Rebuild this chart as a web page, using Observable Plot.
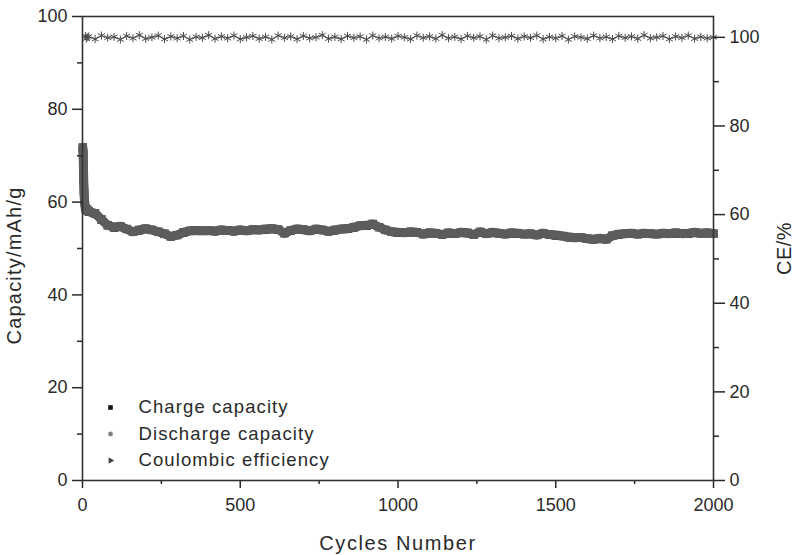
<!DOCTYPE html>
<html><head><meta charset="utf-8">
<script src="https://cdn.jsdelivr.net/npm/d3@7"></script>
<script src="https://cdn.jsdelivr.net/npm/@observablehq/plot@0.6"></script>
<style>
html,body{margin:0;padding:0;background:#fff;}
#chart svg, #chart svg text{font-family:"Liberation Sans",Arial,sans-serif;}
#chart svg{color:#2a2a2a;background:#fff;}
</style></head><body><div id="chart"></div>
<script>
const cycles = [1,2,3,4,5,6,8,10,12,15,
  20,40,60,80,100,120,140,160,180,200,
  220,240,260,280,300,320,340,360,380,400,
  420,440,460,480,500,520,540,560,580,600,
  620,640,660,680,700,720,740,760,780,800,
  820,840,860,880,900,920,940,960,980,1000,
  1020,1040,1060,1080,1100,1120,1140,1160,1180,1200,
  1220,1240,1260,1280,1300,1320,1340,1360,1380,1400,
  1420,1440,1460,1480,1500,1520,1540,1560,1580,1600,
  1620,1640,1660,1680,1700,1720,1740,1760,1780,1800,
  1820,1840,1860,1880,1900,1920,1940,1960,1980,2000];
const dischargeCapacity = [71.8,70.5,67.5,64.5,62.0,60.5,59.2,58.6,58.3,58.4,
  58.0,57.6,56.3,55.0,54.6,54.8,54.2,53.6,54.0,54.3,
  54.0,53.6,53.2,52.6,52.9,53.5,53.8,53.9,53.8,53.9,
  53.8,54.0,53.9,53.8,54.0,53.8,54.1,54.0,54.2,54.3,
  54.1,53.3,53.9,54.2,54.1,53.8,54.2,54.0,53.7,54.0,
  54.2,54.3,54.6,54.9,55.0,55.3,54.6,54.0,53.6,53.5,
  53.4,53.6,53.5,53.1,53.4,53.3,53.0,53.4,53.2,53.5,
  53.4,53.0,53.6,53.2,53.5,53.3,53.1,53.4,53.3,53.1,
  53.2,52.9,53.3,53.0,52.9,52.7,52.5,52.3,52.4,52.1,
  52.0,52.2,52.0,52.8,53.1,53.2,53.3,53.1,53.3,53.2,
  53.1,53.3,53.2,53.4,53.2,53.3,53.5,53.3,53.4,53.2];
const chargeCapacity = [71.6,70.3,67.4,64.4,61.9,60.4,59.1,58.5,58.2,58.3,
  57.9,57.5,56.2,55.0,54.5,54.7,54.2,53.6,53.9,54.2,
  54.0,53.6,53.1,52.6,52.9,53.4,53.8,53.8,53.8,53.9,
  53.7,54.0,53.9,53.7,54.0,53.8,54.0,54.0,54.1,54.2,
  54.1,53.3,53.8,54.2,54.0,53.8,54.1,54.0,53.7,53.9,
  54.2,54.2,54.5,54.9,54.9,55.2,54.6,54.0,53.6,53.4,
  53.4,53.5,53.5,53.1,53.3,53.3,53.0,53.3,53.2,53.4,
  53.3,53.0,53.5,53.2,53.4,53.3,53.1,53.3,53.2,53.1,
  53.1,52.9,53.2,53.0,52.8,52.7,52.4,52.3,52.3,52.1,
  52.0,52.1,52.0,52.7,53.0,53.2,53.2,53.1,53.2,53.2,
  53.1,53.2,53.2,53.3,53.2,53.2,53.4,53.3,53.3,53.2];
const coulombicEfficiency = [99.6,100.2,99.8,100.4,99.5,100.1,99.9,100.3,99.7,100.0,
  100.2,99.6,100.4,99.9,100.1,99.5,100.3,99.8,100.5,99.7,
  100.0,100.4,99.6,100.2,99.8,100.3,99.5,100.1,99.9,100.5,
  99.7,100.2,99.8,100.4,99.6,100.0,100.3,99.7,100.1,99.5,
  100.4,99.9,100.2,99.6,100.3,99.8,100.0,100.5,99.7,100.1,
  99.6,100.3,99.9,100.2,99.5,100.4,99.8,100.1,99.7,100.3,
  100.0,99.6,100.4,99.9,100.2,99.7,100.5,99.8,100.1,99.6,
  100.3,99.9,100.2,99.5,100.4,99.8,100.0,100.3,99.7,100.2,
  99.9,100.4,99.6,100.1,99.8,100.3,99.5,100.2,100.0,99.7,
  100.4,99.8,100.1,99.6,100.3,99.9,100.2,99.7,100.5,99.8,
  100.0,100.3,99.6,100.2,99.9,100.4,99.7,100.1,99.8,100.0];
const xTicks = [0,500,1000,1500,2000];
const xMinorTicks = [250,750,1250,1750];
const capTicks = [0,20,40,60,80,100];
const capMinorTicks = [10,30,50,70,90];
const ceTicks = [0,20,40,60,80,100];
const ceMinorTicks = [10,30,50,70,90];
const ceMax = 104.7;
const legendLabels = ["Charge capacity","Discharge capacity","Coulombic efficiency"];
const xTitle = "Cycles Number";
const yTitle = "Capacity/mAh/g";
const y2Title = "CE/%";

const FONT = "Liberation Sans";
const ce = d3.scaleLinear([0, ceMax], [0, 100]);
const rows = cycles.map((c, i) => ({cycle: c, charge: chargeCapacity[i], discharge: dischargeCapacity[i], ce: coulombicEfficiency[i]}));
const ceRows = rows.filter(d => d.cycle >= 10);

const legendSymbols = [
  {symbol: "square", fill: "#111", r: 2.6, rotate: 0},
  {symbol: "circle", fill: "#808080", r: 2.4, rotate: 0},
  {symbol: "triangle", fill: "#444", r: 2.4, rotate: 90}
];
const legendMarks = legendLabels.flatMap((label, i) => [
  Plot.dot([label], {frameAnchor: "bottom-left", dx: 28, dy: -73 + i * 26.5, symbol: legendSymbols[i].symbol, fill: legendSymbols[i].fill, stroke: "none", r: legendSymbols[i].r, rotate: legendSymbols[i].rotate}),
  Plot.text([label], {frameAnchor: "bottom-left", dx: 56, dy: -73 + i * 26.5, text: d => d, textAnchor: "start", lineAnchor: "middle", fontSize: 18.5, fontFamily: FONT, fill: "#2a2a2a"})
]);

const chart = Plot.plot({
  width: 796, height: 555,
  marginLeft: 82, marginRight: 83, marginTop: 16, marginBottom: 75,
  style: {fontFamily: FONT, background: "#fff"},
  x: {domain: [0, 2000]},
  y: {domain: [0, 100]},
  marks: [
    Plot.line(rows, {x: "cycle", y: "charge", stroke: "#222", strokeWidth: 8.5, strokeLinejoin: "round"}),
    Plot.dot(rows, {x: "cycle", y: "charge", symbol: "square", r: 4.5, fill: "#111", stroke: "none"}),
    Plot.line(rows, {x: "cycle", y: "discharge", stroke: "#5c5c5c", strokeWidth: 9, strokeLinejoin: "round"}),
    Plot.dot(rows, {x: "cycle", y: "discharge", symbol: "square", r: 4.8, fill: "#5c5c5c", stroke: "none"}),
    Plot.line(ceRows, {x: "cycle", y: d => ce(d.ce), stroke: "#707070", strokeWidth: 1.2}),
    Plot.dot(ceRows, {x: "cycle", y: d => ce(d.ce), symbol: "asterisk", r: 3.8, stroke: "#4a4a4a", strokeWidth: 1, fill: "none"}),
    Plot.axisX(xTicks, {tickSize: 8, tickPadding: 10, fontSize: 18, fontFamily: FONT, strokeWidth: 1.5, tickFormat: d => String(d), label: null}),
    Plot.axisX(xMinorTicks, {tickSize: 4, strokeWidth: 1.5, text: null, label: null}),
    Plot.axisY(capTicks, {anchor: "left", tickSize: 10, tickPadding: 5, fontSize: 18, fontFamily: FONT, strokeWidth: 1.5, tickFormat: d => String(d), label: null}),
    Plot.axisY(capMinorTicks, {anchor: "left", tickSize: 5, strokeWidth: 1.5, text: null, label: null}),
    Plot.axisY(ceTicks.map(ce), {anchor: "right", tickSize: 11, tickPadding: 5, fontSize: 18, fontFamily: FONT, strokeWidth: 1.5, tickFormat: d => String(Math.round(ce.invert(d))), label: null}),
    Plot.axisY(ceMinorTicks.map(ce), {anchor: "right", tickSize: 5, strokeWidth: 1.5, text: null, label: null}),
    Plot.frame({stroke: "#333", strokeWidth: 1.6}),
    Plot.text([xTitle], {frameAnchor: "bottom", dy: 63, text: d => d, fontSize: 20, fontFamily: FONT, textAnchor: "middle", lineAnchor: "middle", fill: "#2a2a2a"}),
    Plot.text([yTitle], {frameAnchor: "left", dx: -68, dy: 17, rotate: -90, text: d => d, fontSize: 20, fontFamily: FONT, textAnchor: "middle", lineAnchor: "middle", fill: "#2a2a2a"}),
    Plot.text([y2Title], {frameAnchor: "right", dx: 71, dy: 0, rotate: -90, text: d => d, fontSize: 20, fontFamily: FONT, textAnchor: "middle", lineAnchor: "middle", fill: "#2a2a2a"}),
    ...legendMarks
  ]
});
document.getElementById("chart").appendChild(chart);
const spacing = new Map([[xTitle, "1.6px"], [yTitle, "1.2px"], [y2Title, "0.5px"]]);
legendLabels.forEach(l => spacing.set(l, "1.1px"));
chart.querySelectorAll("text").forEach(t => {
  const s = spacing.get(t.textContent);
  if (s) t.setAttribute("letter-spacing", s);
});
</script>
</body></html>
